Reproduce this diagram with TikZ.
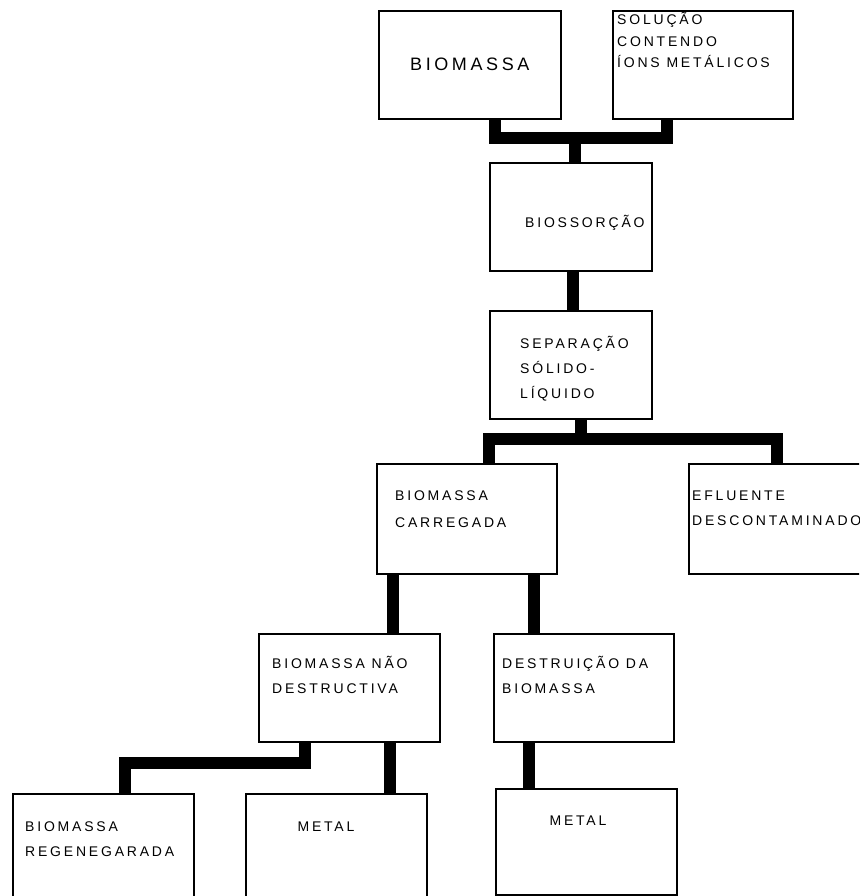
\documentclass[tikz,border=0pt]{standalone}
\usepackage{fontspec}
\setmainfont{Liberation Sans}[LetterSpace=20]
\tikzset{
  box/.style={draw, line width=1.6pt, anchor=north west, inner sep=0pt,
    minimum width=181pt, minimum height=108pt},
  link/.style={line width=12pt, line join=miter},
  txt/.style={anchor=base west, inner sep=0pt, align=left,
    font=\fontsize{14}{25}\selectfont}
}
\begin{document}
\begin{tikzpicture}[x=1pt, y=-1pt]
  \useasboundingbox (0, 0) rectangle (859, 896);
  \clip (0, 0) rectangle (859, 896);
      %%top row
      \node[box, minimum width=182pt, font=\fontsize{18}{20}\selectfont](bio) at(378, 10){BIOMASSA};
      \node[box, minimum width=180pt](sol) at(612, 10){};
        %% base of a multi-line text is its last line
        \node[txt, font=\fontsize{14}{21.5}\selectfont](soltxt) at([shift={(5, 58)}]sol.north west){SOLUÇÃO\\CONTENDO\\ÍONS METÁLICOS};
      \coordinate(j1) at(575, 138);
      \draw[link]([xshift=25pt]bio.south) |- (j1) -| ([xshift=-36pt]sol.south);
      %%biossorcao
      \node[box, minimum width=162pt](bios) at(489, 162){};
        \node[txt](biostxt) at([shift={(36, 65)}]bios.north west){BIOSSORÇÃO};
      \draw[link](j1) -- (j1 |- bios.north);
      %%separacao
      \node[box, minimum width=162pt](sep) at(489, 310){};
        \node[txt](septxt) at([shift={(31, 88)}]sep.north west){SEPARAÇÃO\\SÓLIDO-\\LÍQUIDO};
      \draw[link]([xshift=2pt]bios.south) -- ([xshift=2pt]sep.north);
      %%carregada + efluente
      \node[box, minimum width=180pt, minimum height=110pt](carr) at(376, 463){};
        \node[txt, font=\fontsize{14}{27}\selectfont](carrtxt) at([shift={(19, 64)}]carr.north west){BIOMASSA\\CARREGADA};
      \node[box, minimum width=200pt, minimum height=110pt](efl) at(688, 463){};
        \node[txt](efltxt) at([shift={(4, 62)}]efl.north west){EFLUENTE\\DESCONTAMINADO};
      \coordinate(j2) at(581, 439);
      \draw[link](j2 |- sep.south) -- (j2);
      \draw[link]([xshift=22pt]carr.north) |- (j2) -| ([xshift=-12pt]efl.north);
      %%nao destructiva + destruicao
      \node[box](nao) at(258, 633){};
        \node[txt](naotxt) at([shift={(14, 60)}]nao.north west){BIOMASSA NÃO\\DESTRUCTIVA};
      \node[box, minimum width=180pt](dest) at(493, 633){};
        \node[txt](desttxt) at([shift={(9, 60)}]dest.north west){DESTRUIÇÃO DA\\BIOMASSA};
      \draw[link]([xshift=-74pt]carr.south) -- ([xshift=-74pt]carr.south |- nao.north);
      \draw[link]([xshift=67pt]carr.south) -- ([xshift=67pt]carr.south |- dest.north);
      %%bottom row
      \node[box, minimum height=130pt](reg) at(12, 793){};
        \node[txt](regtxt) at([shift={(13, 63)}]reg.north west){BIOMASSA\\REGENEGARADA};
      \node[box, minimum height=130pt](met1) at(245, 793){};
        \node[txt, anchor=base](met1txt) at([shift={(81, 38)}]met1.north west){METAL};
      \node[box, minimum height=106pt](met2) at(495, 788){};
        \node[txt, anchor=base](met2txt) at([shift={(83, 37)}]met2.north west){METAL};
      \coordinate(j3) at(200, 763);
      \draw[link]([xshift=-44.5pt]nao.south) |- (j3) -| ([xshift=21.5pt]reg.north);
      \draw[link]([xshift=40.5pt]nao.south) -- ([xshift=40.5pt]nao.south |- met1.north);
      \draw[link]([xshift=-55pt]dest.south) -- ([xshift=-55pt]dest.south |- met2.north);
\end{tikzpicture}
\end{document}
